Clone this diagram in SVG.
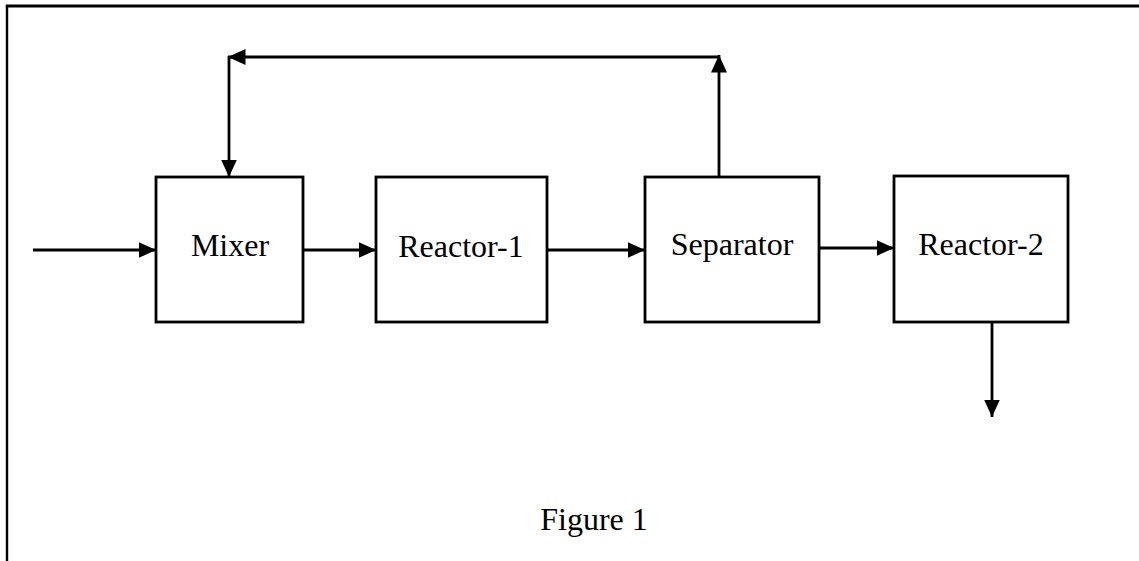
<svg xmlns="http://www.w3.org/2000/svg" width="1139" height="561" viewBox="0 0 1139 561">
  <style>
    .box { fill: #fff; stroke: #000; stroke-width: 2.8; }
    .lbl { font-family: "Liberation Serif", "Times New Roman", serif; font-size: 32px; fill: #000; text-anchor: middle; }
    .conn { fill: none; stroke: #000; stroke-width: 2.8; }
    .frame { fill: none; stroke: #000; }
  </style>
  <defs>
    <marker id="arr" markerUnits="userSpaceOnUse" markerWidth="19" markerHeight="17" refX="17.5" refY="8" orient="auto">
      <path d="M0,0 L17.5,8 L0,16 z" fill="#000"/>
    </marker>
  </defs>
  <rect width="1139" height="561" fill="#fff"/>
  <g id="frame">
    <line class="frame" x1="5.8" y1="6" x2="1139" y2="6" stroke-width="2.8"/>
    <line class="frame" x1="7" y1="6" x2="7" y2="561" stroke-width="2.4"/>
  </g>
  <g id="connectors">
    <line class="conn" x1="33" y1="250" x2="156" y2="250" marker-end="url(#arr)"/>
    <line class="conn" x1="303" y1="250" x2="376" y2="250" marker-end="url(#arr)"/>
    <line class="conn" x1="547" y1="250" x2="645" y2="250" marker-end="url(#arr)"/>
    <line class="conn" x1="819" y1="248" x2="894" y2="248" marker-end="url(#arr)"/>
    <line class="conn" x1="719" y1="177" x2="719" y2="55" marker-end="url(#arr)"/>
    <line class="conn" x1="719" y1="57" x2="228" y2="57" marker-end="url(#arr)"/>
    <line class="conn" x1="229" y1="56" x2="229" y2="177" marker-end="url(#arr)"/>
    <line class="conn" x1="992" y1="322" x2="992" y2="417" marker-end="url(#arr)"/>
  </g>
  <g id="mixer">
    <rect class="box" x="156" y="177" width="147" height="145"/>
    <text class="lbl" x="230" y="256">Mixer</text>
  </g>
  <g id="reactor1">
    <rect class="box" x="376" y="177" width="171" height="145"/>
    <text class="lbl" x="461" y="257">Reactor-1</text>
  </g>
  <g id="separator">
    <rect class="box" x="645" y="177" width="174" height="145"/>
    <text class="lbl" x="732" y="255">Separator</text>
  </g>
  <g id="reactor2">
    <rect class="box" x="894" y="176" width="174" height="146"/>
    <text class="lbl" x="981" y="255">Reactor-2</text>
  </g>
  <g id="caption">
    <text class="lbl" x="594" y="530">Figure 1</text>
  </g>
</svg>
